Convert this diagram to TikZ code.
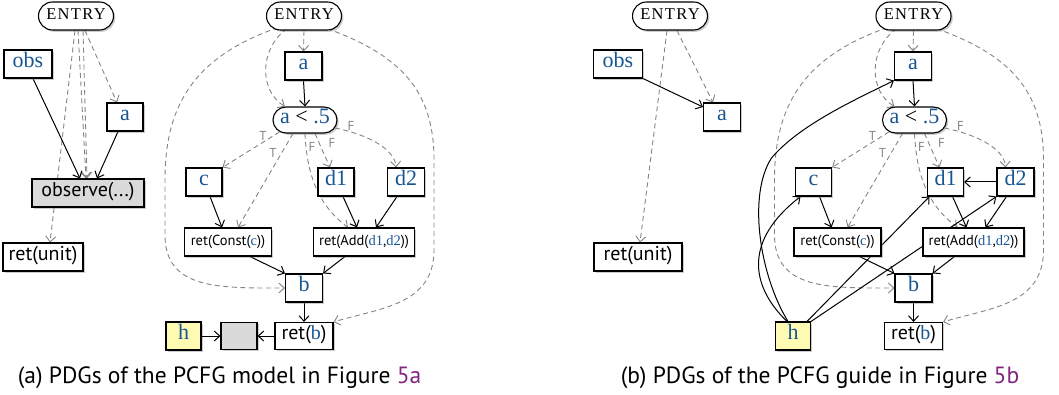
\documentclass[tikz,border=0pt]{standalone}
\usepackage{fontspec}
\newfontfamily\sansf{PT Sans}
\newfontfamily\serf{Liberation Serif}
\newfontfamily\entf[LetterSpace=8]{Liberation Serif}
\usetikzlibrary{arrows.meta,shapes.misc,shadows,backgrounds}
\definecolor{varblue}{RGB}{24,86,146}
\definecolor{figpurple}{RGB}{128,36,128}
\definecolor{dashgray}{RGB}{132,132,132}
\definecolor{hyellow}{RGB}{255,250,178}
\definecolor{boxgray}{RGB}{218,218,218}
\newcommand\V[1]{{\serf\color{varblue}#1}}
\newcommand\SF{\sansf\fontsize{20}{23}\selectfont}
\newcommand\SFs{\sansf\fontsize{14.5}{17}\selectfont}
\newcommand\RMv{\serf\fontsize{22}{25}\selectfont}
\newcommand\ENT{\entf\fontsize{16.5}{19}\selectfont}
\tikzset{
  nd/.style={draw=black, line width=1.1pt, fill=white,
    drop shadow={shadow xshift=1.8pt,shadow yshift=-1.8pt,opacity=0.4},
    inner sep=0pt, minimum height=28pt, text height=0.88em, text depth=0.1em, font=\SF},
  bx/.style={nd, rectangle},
  pl/.style={nd, rounded rectangle},
  vr/.style={font=\RMv},
  dep/.style={black, line width=1pt, -{Straight Barb[length=5.5pt,width=10pt]}},
  ctl/.style={dashgray, line width=0.9pt, dash pattern=on 5pt off 3.5pt, -{Straight Barb[length=5.5pt,width=10pt]}},
  cl/.style={text=dashgray, font=\sansf\fontsize{13}{13}\selectfont, inner sep=0pt},
  capt/.style={font=\sansf\fontsize{23.5}{26}\selectfont, anchor=base, inner sep=0pt},
}
\newcommand\pcfgCore{%
  \node[pl,minimum width=75pt,font=\ENT,text height=0.8em] (E) at (304,16) {ENTRY};
  \node[bx,vr,minimum width=37pt] (a) at (303.5,66) {\V{a}};
  \node[pl,vr,minimum width=64pt,minimum height=26pt,text height=0.8em] (lt) at (305,120) {\V{a} < \V{.5}};
  \node[bx,vr,minimum width=36pt] (c) at (204,182) {\V{c}};
  \node[bx,vr,minimum width=36pt] (d1) at (336,182) {\V{d1}};
  \node[bx,vr,minimum width=37pt] (d2) at (406,182) {\V{d2}};
  \node[bx,font=\SFs,minimum width=87pt] (rc) at (228,242) {ret(Const(\V{c}))};
  \node[bx,font=\SFs,minimum width=101pt] (ra) at (364,242) {ret(Add(\V{d1},\V{d2}))};
  \node[bx,vr,minimum width=37pt] (b) at (304,288) {\V{b}};
  \node[bx,minimum width=58pt,minimum height=27pt] (rb) at (304,336) {ret(\V{b})};
  \node[bx,vr,fill=hyellow,minimum width=35pt] (h) at (183.5,336) {\V{h}};
  \node[cl] (t1) at (263,136) {T};
  \node[cl] (t2) at (273,153) {T};
  \node[cl] (f1) at (312,147) {F};
  \node[cl] (f2) at (332,143) {F};
  \node[cl] (f3) at (351,126) {F};
  \begin{pgfonlayer}{background}
    \draw[ctl] (E.south) -- (a.north);
    \draw[ctl] ([xshift=-17pt,yshift=2pt]E.south) .. controls (258,50) and (260,92) .. ([xshift=-20pt]lt.north);
    \draw[ctl] ([xshift=-26pt,yshift=3pt]E.south) .. controls (190,58) and (165,110) .. (165,180) -- (165,235) .. controls (165,290) and (220,288) .. (b.west);
    \draw[ctl] ([xshift=23pt,yshift=2pt]E.south) .. controls (400,55) and (434,90) .. (434,160) -- (434,250) .. controls (434,305) and (380,308) .. (rb.north east);
    \draw[ctl] (lt.205) -- (c.north east);
    \draw[ctl] ([xshift=-12pt]lt.south) -- ([xshift=10pt]rc.north);
    \draw[ctl] ([xshift=10pt]lt.south) -- ([xshift=-6pt]d1.north);
    \draw[ctl] (lt.south) .. controls (307,175) and (318,205) .. ([xshift=-16pt]ra.north);
    \draw[ctl] (lt.345) .. controls (370,135) and (395,150) .. ([xshift=-10pt]d2.north);
    \draw[dep] (a.south) -- (lt.north);
    \draw[dep] ([xshift=6pt]c.south) -- ([xshift=-6pt]rc.north);
    \draw[dep] ([xshift=7pt]d1.south) -- ([xshift=-7pt]ra.north);
    \draw[dep] ([xshift=-9pt]d2.south) -- ([xshift=12pt]ra.north);
    \draw[dep] ([xshift=22pt]rc.south) -- (b.north west);
    \draw[dep] ([xshift=-19pt]ra.south) -- (b.north east);
    \draw[dep] (b.south) -- (rb.north);
  \end{pgfonlayer}
}
\begin{document}
\begin{tikzpicture}[x=1pt,y=-1pt]
\useasboundingbox (0,0) rectangle (1059,395);
% ---- panel (a), left graph
\node[pl,minimum width=75pt,font=\ENT,text height=0.8em] (E1) at (76,16) {ENTRY};
\node[bx,vr,minimum width=48pt] (obs1) at (28,64) {\V{obs}};
\node[bx,vr,minimum width=36pt] (a1) at (125,117) {\V{a}};
\node[bx,fill=boxgray,minimum width=112pt] (ob1) at (88,193) {observe(...)};
\node[bx,minimum width=80pt] (ru1) at (43,257) {ret(unit)};
\begin{pgfonlayer}{background}
  \draw[ctl] ([xshift=9pt]E1.south) -- ([xshift=-8pt]a1.north);
  \draw[ctl] ([xshift=2pt]E1.south) -- ([xshift=-2pt]ob1.north);
  \draw[ctl] ([xshift=7pt]E1.south) -- ([xshift=-1pt]ob1.north);
  \draw[ctl] ([xshift=-1pt]E1.south) -- ([xshift=7pt]ru1.north);
  \draw[dep] ([xshift=5pt]obs1.south) -- ([xshift=-8pt]ob1.north);
  \draw[dep] ([xshift=-7pt]a1.south) -- ([xshift=9pt]ob1.north);
\end{pgfonlayer}
% ---- panel (a), right graph
\begin{scope}[name prefix=m-]
  \pcfgCore
  \node[bx,fill=boxgray,minimum width=36pt,minimum height=27pt] (g) at (239,336) {};
  \draw[dep] (h.east) -- (g.west);
  \draw[dep] (rb.west) -- (g.east);
\end{scope}
% ---- panel (b), left graph
\node[pl,minimum width=75pt,font=\ENT,text height=0.8em] (E3) at (670,16) {ENTRY};
\node[bx,vr,minimum width=49pt] (obs3) at (618,64) {\V{obs}};
\node[bx,vr,minimum width=37pt] (a3) at (722,117) {\V{a}};
\node[bx,minimum width=88pt] (ru3) at (638,257) {ret(unit)};
\begin{pgfonlayer}{background}
  \draw[ctl] ([xshift=7pt]E3.south) -- ([xshift=-9pt]a3.north);
  \draw[ctl] ([xshift=-3pt]E3.south) -- ([xshift=2pt]ru3.north);
  \draw[dep] (obs3.south east) -- ([yshift=10pt]a3.west);
\end{pgfonlayer}
% ---- panel (b), right graph
\begin{scope}[xshift=609.5pt,name prefix=r-]
  \pcfgCore
  \begin{pgfonlayer}{background}
    \draw[dep] (d2.west) -- (d1.east);
    \draw[dep] ([xshift=-5pt]h.north) .. controls (150,275) and (138,195) .. (162,158) .. controls (190,125) and (245,100) .. (a.south west);
    \draw[dep] ([xshift=-6pt]h.north) .. controls (140,285) and (135,240) .. ([xshift=-13pt]c.south);
    \draw[dep] ([xshift=14pt]h.north) -- ([xshift=-16pt]d1.south);
    \draw[dep] (h.north east) -- (d2.south west);
  \end{pgfonlayer}
\end{scope}
% ---- captions
\node[capt] (capa) at (219.5,383) {(a) PDGs of the PCFG model in Figure {\color{figpurple}5a}};
\node[capt] (capb) at (820,383) {(b) PDGs of the PCFG guide in Figure {\color{figpurple}5b}};
\end{tikzpicture}
\end{document}
